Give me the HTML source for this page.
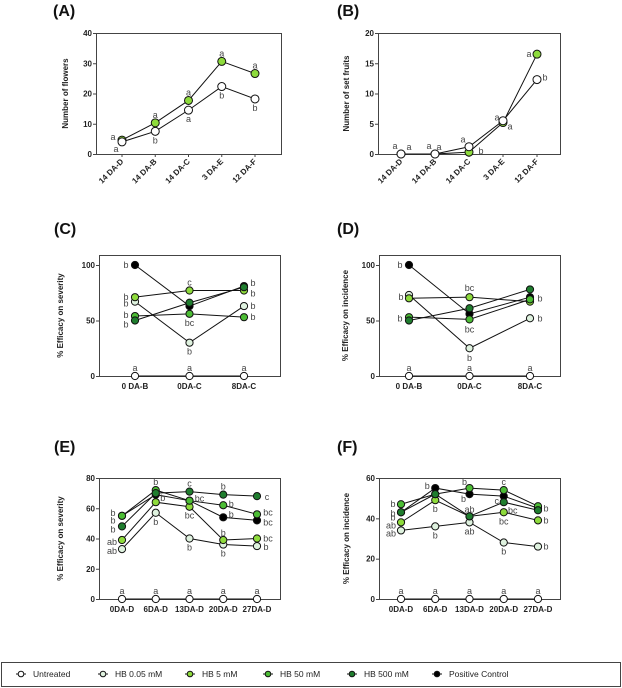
<!DOCTYPE html>
<html><head><meta charset="utf-8"><style>
body{margin:0;background:#fff;}
svg{display:block;font-family:"Liberation Sans",Arial,sans-serif;}
.tk{font-size:8px;font-weight:bold;fill:#222;}
.at{font-size:8px;font-weight:bold;fill:#222;}
.an{font-size:9px;fill:#444;}
.pt{font-size:16px;font-weight:bold;fill:#111;}
.lg{font-size:8.5px;fill:#222;}
</style></head><body>
<svg id="fig" width="622" height="688">
<rect x="0" y="0" width="622" height="688" fill="#fff"/>
<text class="pt" x="53" y="16">(A)</text>
<text class="pt" x="337" y="16">(B)</text>
<text class="pt" x="54" y="234">(C)</text>
<text class="pt" x="337" y="234">(D)</text>
<text class="pt" x="54" y="452">(E)</text>
<text class="pt" x="337" y="452">(F)</text>
<g id="legend">
<rect x="1.5" y="662.5" width="619" height="24" fill="#fff" stroke="#444" stroke-width="1"/>
</g>
</svg>
<script>
const colors=['#ffffff','#dff2df','#8edb3c','#4cbd35','#1f7d2e','#000000'];
const seriesNames=['Untreated','HB 0.05 mM','HB 5 mM','HB 50 mM','HB 500 mM','Positive Control'];

const catsA=['14 DA-D','14 DA-B','14 DA-C','3 DA-E','12 DA-F'];
const ticksA=[0,10,20,30,40];
const untreatedA=[4,7.5,14.5,22.3,18.2];
const greenA=[4.6,10.3,17.7,30.6,26.6];
const annA=[[0,4.6,'a',-9,-3],[0,4,'a',-6,7],[1,10.3,'a',0,-8],[1,7.5,'b',0,9],[2,17.7,'a',0,-8],[2,14.5,'a',0,9],[3,30.6,'a',0,-8],[3,22.3,'b',0,9],[4,26.6,'a',0,-8],[4,18.2,'b',0,9]];

const catsB=['14 DA-D','14 DA-B','14 DA-C','3 DA-E','12 DA-F'];
const ticksB=[0,5,10,15,20];
const untreatedB=[0,0,1.2,5.5,12.3];
const greenB=[0,0,0.3,5.2,16.5];
const annB=[[0,0,'a',-6,-8],[0,0,'a',8,-7],[1,0,'a',-6,-8],[1,0,'a',4,-7],[2,1.2,'a',-6,-7],[2,0.3,'b',12,-1],[3,5.5,'a',-6,-3],[3,5.2,'a',7,4],[4,16.5,'a',-8,0],[4,12.3,'b',8,-2]];

const catsC=['0 DA-B','0DA-C','8DA-C'];
const ticksC=[0,50,100];
const untreatedC=[0,0,0];
const hb005C=[67,30,63];
const hb5C=[71,77,77];
const hb50C=[54,56,53];
const hb500C=[50,66,80];
const posC=[100,63,81];
const annC=[[0,100,'b',-9,0],[0,71,'b',-9,0],[0,67,'b',-9,2],[0,54,'b',-9,-1],[0,50,'b',-9,4],[1,77,'c',0,-8],[1,56,'bc',0,9],[1,30,'b',0,9],[2,81,'b',9,-3],[2,77,'b',9,3],[2,63,'b',9,0],[2,53,'b',9,0],[0,0,'a',0,-8],[1,0,'a',0,-8],[2,0,'a',0,-8]];

const catsD=['0 DA-B','0DA-C','8DA-C'];
const ticksD=[0,50,100];
const untreatedD=[0,0,0];
const hb005D=[73,25,52];
const hb5D=[70,71,67];
const hb50D=[53,51,69];
const hb500D=[50,61,78];
const posD=[100,56,71];
const annD=[[0,100,'b',-9,0],[0,71,'b',-8,0],[0,52,'b',-9,0],[1,71,'bc',0,-9],[1,51,'bc',0,10],[1,25,'b',0,10],[2,70,'b',10,0],[2,52,'b',10,0],[0,0,'a',0,-8],[1,0,'a',0,-8],[2,0,'a',0,-8]];

const catsE=['0DA-D','6DA-D','13DA-D','20DA-D','27DA-D'];
const ticksE=[0,20,40,60,80];
const untreatedE=[0,0,0,0,0];
const hb005E=[33,57,40,36,35];
const hb5E=[39,64,61,39,40];
const hb50E=[55,72,65,62,56];
const hb500E=[48,70,71,69,68];
const posE=[55,69,65,54,52];
const annE=[[0,55,'b',-9,-3],[0,48,'b',-9,-6],[0,48,'b',-9,3],[0,39,'ab',-10,2],[0,33,'ab',-10,2],[1,72,'b',0,-8],[1,64,'b',7,-4],[1,57,'b',0,9],[2,71,'c',0,-8],[2,65,'bc',10,-2],[2,61,'bc',0,9],[2,40,'b',0,9],[3,69,'b',0,-8],[3,62,'b',8,-1],[3,54,'b',8,-3],[3,39,'b',0,-7],[3,36,'b',0,9],[4,68,'c',10,1],[4,56,'bc',11,-2],[4,52,'bc',11,2],[4,40,'bc',11,0],[4,35,'b',9,1],[0,0,'a',0,-8],[1,0,'a',0,-8],[2,0,'a',0,-8],[3,0,'a',0,-8],[4,0,'a',0,-8]];

const catsF=['0DA-D','6DA-D','13DA-D','20DA-D','27DA-D'];
const ticksF=[0,20,40,60];
const untreatedF=[0,0,0,0,0];
const hb005F=[34,36,38,28,26];
const hb5F=[38,49,41,43,39];
const hb50F=[47,52,55,54,46];
const hb500F=[43,52,41,48,44];
const posF=[43,55,52,51,45];
const annF=[[0,47,'b',-8,0],[0,43,'b',-8,1],[0,38,'b',-8,-5],[0,38,'ab',-10,3],[0,34,'ab',-10,3],[1,55,'b',-8,-2],[1,49,'b',0,9],[1,36,'b',0,9],[2,55,'b',-5,-6],[2,52,'b',-6,5],[2,41,'ab',0,-7],[2,38,'ab',0,9],[3,54,'c',0,-8],[3,48,'c',-7,-1],[3,43,'bc',9,-2],[3,43,'bc',0,9],[3,28,'b',0,9],[4,45,'b',8,0],[4,39,'b',8,0],[4,26,'b',8,0],[0,0,'a',0,-8],[1,0,'a',0,-8],[2,0,'a',0,-8],[3,0,'a',0,-8],[4,0,'a',0,-8]];

const NS='http://www.w3.org/2000/svg';
const fig=document.getElementById('fig');
function mk(tag,attrs,parent){const e=document.createElementNS(NS,tag);for(const k in attrs)e.setAttribute(k,attrs[k]);(parent||fig).appendChild(e);return e;}

function panel(id,box,pad,ymax,ticks,cats,series,ann,title,titleX,rot){
  const [x0,y0,x1,y1]=box;
  const g=mk('g',{});
  
  
  const step=(x1-x0-2*pad)/(cats.length-1);
  const xs=i=>x0+pad+i*step;
  const ys=v=>y1-(v/ymax)*(y1-y0);
  const fr=mk('rect',{x:x0+0.5,y:y0+0.5,width:x1-x0,height:y1-y0,fill:'none',stroke:'#444','stroke-width':1},g);
  
  
  ticks.forEach(t=>{
    mk('line',{x1:x0-3,x2:x0,y1:ys(t)+0.5,y2:ys(t)+0.5,stroke:'#444'},g);
    const tx=mk('text',{x:x0-4,y:ys(t)+3,'text-anchor':'end',class:'tk'},g);
    tx.textContent=t;
    
    
  });
  cats.forEach((c,i)=>{
    mk('line',{x1:xs(i),x2:xs(i),y1:y1,y2:y1+3,stroke:'#444'},g);
    let tx;
    if(rot){tx=mk('text',{x:xs(i)+2,y:y1+8,'text-anchor':'end',class:'tk',transform:`rotate(-45 ${xs(i)+2} ${y1+8})`},g);}
    else{tx=mk('text',{x:xs(i),y:y1+13,'text-anchor':'middle',class:'tk'},g);}
    tx.textContent=c;
    
    
  });
  const ty=(y0+y1)/2;
  const at=mk('text',{x:titleX,y:ty,'text-anchor':'middle',class:'at',transform:`rotate(-90 ${titleX} ${ty})`},g);
  at.textContent=title;
  
  
  series.forEach(s=>{
    const d=s.vals.map((v,i)=>(i?'L':'M')+xs(i)+' '+ys(v)).join(' ');
    const p=mk('path',{d:d,fill:'none',stroke:'#111','stroke-width':1},g);
    
    
  });
  series.forEach(s=>{
    s.vals.forEach((v,i)=>{
      const c=mk('circle',{cx:xs(i),cy:ys(v),r:s.r||3.6,fill:s.color,stroke:'#111','stroke-width':1},g);
      
      
    });
  });
  ann.forEach(a=>{
    const t=mk('text',{x:xs(a[0])+a[3],y:ys(a[1])+a[4]+3,'text-anchor':'middle',class:'an'},g);
    t.textContent=a[2];
    
    
  });
}
function full(u,a,b,c,d,e){return [
  {name:'positive-control',vals:e,color:colors[5]},
  {name:'hb-0-05',vals:a,color:colors[1]},{name:'hb-5',vals:b,color:colors[2]},
  {name:'hb-50',vals:c,color:colors[3]},{name:'hb-500',vals:d,color:colors[4]},
  {name:'untreated',vals:u,color:colors[0]}];}

panel('a',[96,33,281,154],26,40,ticksA,catsA,[{name:'green',vals:greenA,color:colors[2],r:4},{name:'untreated',vals:untreatedA,color:colors[0],r:4}],annA,'Number of flowers',68,true);
panel('b',[378,33,560,154],23,20,ticksB,catsB,[{name:'green',vals:greenB,color:colors[2],r:4},{name:'untreated',vals:untreatedB,color:colors[0],r:4}],annB,'Number of set fruits',349,true);
panel('c',[99,255,280,376],36,109,ticksC,catsC,full(untreatedC,hb005C,hb5C,hb50C,hb500C,posC),annC,'% Efficacy on severity',63,false);
panel('d',[379,255,560,376],30,109,ticksD,catsD,full(untreatedD,hb005D,hb5D,hb50D,hb500D,posD),annD,'% Efficacy on incidence',348,false);
panel('e',[99,478,280,599],23,80,ticksE,catsE,full(untreatedE,hb005E,hb5E,hb50E,hb500E,posE),annE,'% Efficacy on severity',63,false);
panel('f',[379,478,560,599],22,60,ticksF,catsF,full(untreatedF,hb005F,hb5F,hb50F,hb500F,posF),annF,'% Efficacy on incidence',349,false);

const lgX=[21,103,190,268,352,437];
const leg=document.getElementById('legend');
seriesNames.forEach((n,i)=>{
  const e=mk('g',{},leg);
  
  
  mk('line',{x1:lgX[i]-5,x2:lgX[i]+5,y1:674,y2:674,stroke:'#111'},e);
  mk('circle',{cx:lgX[i],cy:674,r:2.8,fill:colors[i],stroke:'#111','stroke-width':1},e);
  const t=mk('text',{x:lgX[i]+12,y:677,class:'lg'},e);
  t.textContent=n;
});
</script>
</body></html>
